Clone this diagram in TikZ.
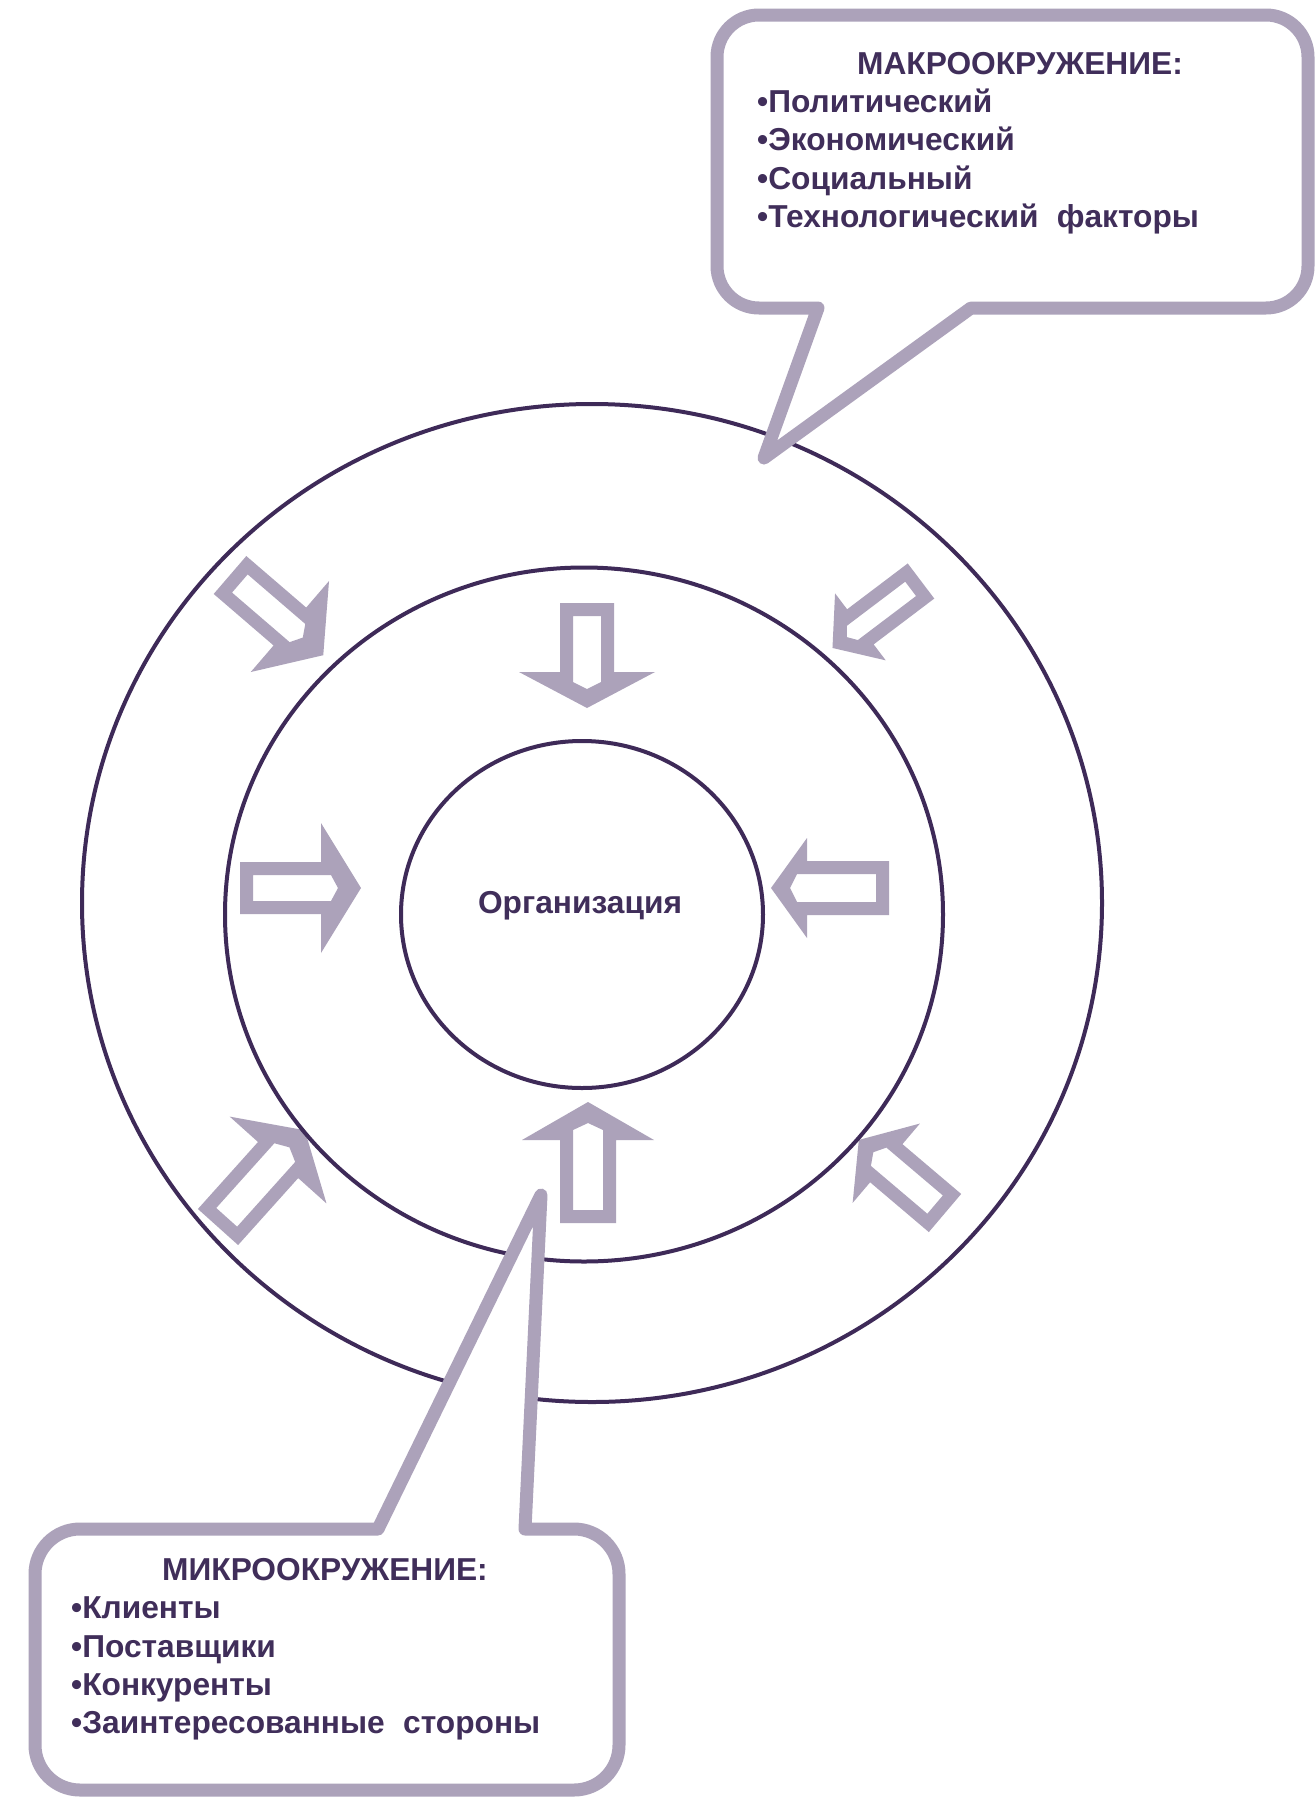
\documentclass[tikz,border=0pt]{standalone}
\usepackage{fontspec}
\setmainfont{Liberation Sans}
\definecolor{ringc}{RGB}{62,42,88}
\definecolor{txtc}{RGB}{64,46,90}
\definecolor{arrowc}{RGB}{172,162,186}
\tikzset{
  ring/.style={draw=ringc, line width=4pt},
  callout/.style={draw=arrowc, fill=white, line width=13pt, line join=round},
  lbl/.style={text=txtc, font=\bfseries\fontsize{31.7}{38}\selectfont, inner sep=0pt},
}
\newcommand\blockarr[7]{%
  \begin{scope}[shift={(#1,#2)}, rotate={-1*(#3)}]
    \fill[arrowc, even odd rule]
      (0,-#5) -- ({#4-#7},-#5) -- ({#4-#7},-#6) -- (#4,0) -- ({#4-#7},#6) -- ({#4-#7},#5) -- (0,#5) -- cycle
      (13,{13-#5}) -- ({#4-#7+10},{13-#5}) -- ({#4-#7+17},0) -- ({#4-#7+10},{#5-13}) -- (13,{#5-13}) -- cycle;
  \end{scope}}
\begin{document}
\begin{tikzpicture}[x=1pt, y=-1pt]
\fill[white] (0,0) rectangle (1316,1799);
\useasboundingbox (0,0) rectangle (1316,1799);
% block arrows
\blockarr{587}{603}{90}{105}{27}{68}{36}
\blockarr{588}{1223}{-90}{121}{28}{66}{38}
\blockarr{240}{888}{0}{121}{26}{65}{40}
\blockarr{889}{888}{180}{118}{27}{50}{36}
\blockarr{230}{575}{40.7}{123}{25}{60}{44}
\blockarr{921}{581}{142.9}{111}{22}{42}{35}
\blockarr{218}{1227}{-48.1}{130}{27}{65}{40}
\blockarr{945}{1213}{-139.7}{113}{25}{52}{36}
% rings
\draw[ring] (592,903) ellipse[x radius=510, y radius=499];
\draw[ring] (584,914.5) ellipse[x radius=359, y radius=347];
\draw[ring] (582,914.5) ellipse[x radius=181, y radius=173.5];
\node[lbl, anchor=base] (org) at (580,913) {Организация};
% top callout
\draw[callout] (818,308) -- (764,458) -- (971,308) -- (1266,308)
  arc[start angle=90, end angle=0, radius=42] -- (1308,57)
  arc[start angle=0, end angle=-90, radius=42] -- (759,15)
  arc[start angle=-90, end angle=-180, radius=42] -- (717,266)
  arc[start angle=180, end angle=90, radius=42] -- cycle;
\node[lbl, anchor=base] (macroh) at (1020,74) {МАКРООКРУЖЕНИЕ:};
\node[lbl, anchor=base west] (m1) at (757,112) {•Политический};
\node[lbl, anchor=base west] (m2) at (757,150.5) {•Экономический};
\node[lbl, anchor=base west] (m3) at (757,189) {•Социальный};
\node[lbl, anchor=base west] (m4) at (757,227.5) {•Технологический\hspace{0.3em} факторы};
% bottom callout
\draw[callout] (378,1529) -- (541,1195) -- (525,1529) -- (574,1529)
  arc[start angle=-90, end angle=0, radius=45] -- (619,1745)
  arc[start angle=0, end angle=90, radius=45] -- (80,1790)
  arc[start angle=90, end angle=180, radius=45] -- (35,1574)
  arc[start angle=180, end angle=270, radius=45] -- cycle;
\node[lbl, anchor=base] (microh) at (325,1580) {МИКРООКРУЖЕНИЕ:};
\node[lbl, anchor=base west] (k1) at (71,1618) {•Клиенты};
\node[lbl, anchor=base west] (k2) at (71,1657) {•Поставщики};
\node[lbl, anchor=base west] (k3) at (71,1695) {•Конкуренты};
\node[lbl, anchor=base west] (k4) at (71,1733) {•Заинтересованные\hspace{0.3em} стороны};
\end{tikzpicture}
\end{document}
